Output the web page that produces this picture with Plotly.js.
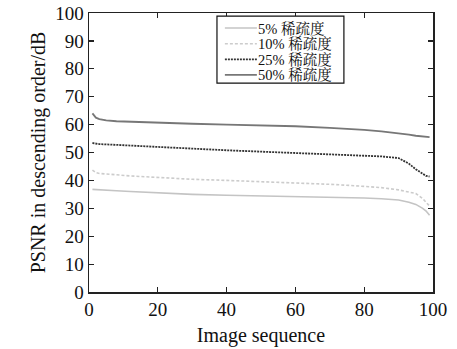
<!DOCTYPE html>
<html><head><meta charset="utf-8">
<script src="https://cdn.plot.ly/plotly-3.0.1.min.js"></script>
<style>html,body{margin:0;padding:0;background:#fff}#plot{width:457px;height:349px}</style>
</head><body><div id="plot"></div>
<script>
var imageIndex = [1,2,3,5,8,12,20,30,40,50,60,70,76,80,85,90,93,95,97,98,99];
var psnr5  = [36.8,36.7,36.6,36.5,36.3,36.0,35.5,35.0,34.7,34.5,34.2,34.0,33.8,33.7,33.4,33.0,32.2,31.4,30.0,29.0,27.5];
var psnr10 = [43.7,42.8,42.5,42.2,42.0,41.6,41.0,40.4,40.0,39.6,39.1,38.6,38.2,37.9,37.4,36.6,35.9,35.3,33.5,32.0,30.8];
var psnr25 = [53.4,53.2,53.0,52.9,52.8,52.5,52.0,51.3,50.8,50.3,49.8,49.4,49.1,49.0,48.6,48.0,46.0,44.0,42.2,41.6,41.4];
var psnr50 = [64.0,62.5,62.0,61.5,61.2,61.0,60.6,60.3,60.0,59.8,59.4,58.8,58.5,58.1,57.6,57.0,56.4,56.0,55.8,55.6,55.5];
var seriesNames = ['5% 稀疏度','10% 稀疏度','25% 稀疏度','50% 稀疏度'];
var xTicks = [0,20,40,60,80,100];
var yTicks = [0,10,20,30,40,50,60,70,80,90,100];

var serif = '"Liberation Serif", "Times New Roman", "Noto Serif CJK SC", "Noto Sans CJK SC", serif';
var styles = [
  {color:'#c4c4c4', dash:'solid', width:1.6},
  {color:'#cccccc', dash:'3px,2px', width:1.6},
  {color:'#333333', dash:'2px,1px', width:1.8},
  {color:'#777777', dash:'solid', width:1.8}
];
var ys = [psnr5, psnr10, psnr25, psnr50];
var data = ys.map(function(y,i){
  return {x:imageIndex, y:y, type:'scatter', mode:'lines', name:seriesNames[i],
          line:{color:styles[i].color, dash:styles[i].dash, width:styles[i].width}};
});

// legend box drawn as shapes + annotations (compact line spacing)
var legendRows = [0.946, 0.890, 0.834, 0.778];
var shapes = [{type:'rect', xref:'paper', yref:'paper', x0:0.372, x1:0.741, y0:0.749, y1:0.989,
  line:{color:'#111', width:1.2}, fillcolor:'#fff', layer:'above'}];
var annotations = [];
seriesNames.forEach(function(n,i){
  shapes.push({type:'line', xref:'paper', yref:'paper', x0:0.395, x1:0.488, y0:legendRows[i], y1:legendRows[i],
    line:{color:styles[i].color, dash:styles[i].dash, width:styles[i].width}, layer:'above'});
  annotations.push({xref:'paper', yref:'paper', x:0.489, y:legendRows[i], xanchor:'left', yanchor:'middle',
    text:n, showarrow:false, height:15, borderpad:0, valign:'middle',
    font:{family:serif, size:14.5, color:'#111'}});
});

var axisCommon = {showgrid:false, zeroline:false, showline:true, linecolor:'#222', linewidth:1.5,
  mirror:'ticks', ticks:'inside', ticklen:5, tickcolor:'#222', tickwidth:1.2,
  tickfont:{family:serif, size:19, color:'#111'}};
var layout = {
  width:457, height:349,
  margin:{l:89, r:24, t:13, b:57},
  paper_bgcolor:'#fff', plot_bgcolor:'#fff',
  showlegend:false,
  shapes:shapes, annotations:annotations,
  xaxis:Object.assign({}, axisCommon, {range:[0,100], tickvals:xTicks, ticktext:xTicks.map(String),
    title:{text:'Image sequence', font:{family:serif, size:20, color:'#111'}, standoff:8}}),
  yaxis:Object.assign({}, axisCommon, {range:[0,100], tickvals:yTicks, ticktext:yTicks.map(String),
    title:{text:'PSNR in descending order/dB', font:{family:serif, size:20, color:'#111'}, standoff:4}})
};
Plotly.newPlot('plot', data, layout, {displayModeBar:false, staticPlot:true});
</script></body></html>
